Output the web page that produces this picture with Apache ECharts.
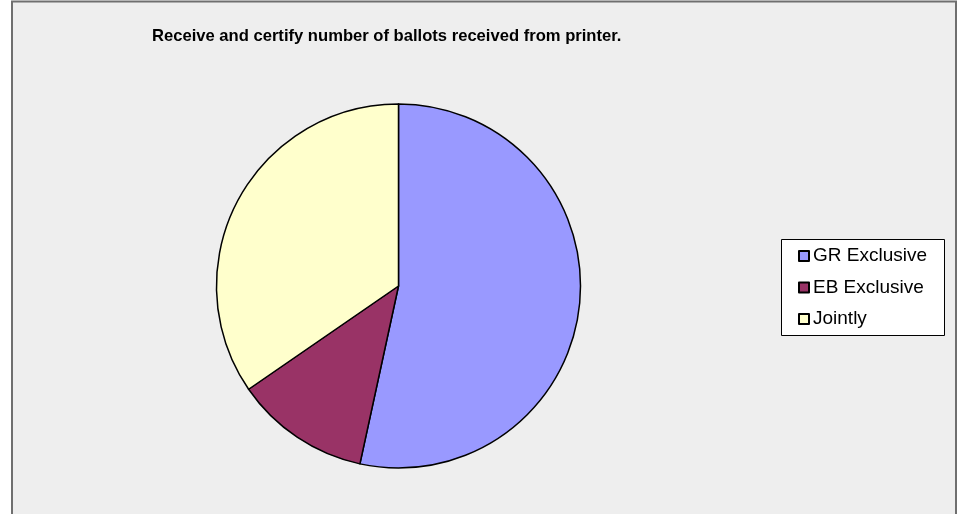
<!DOCTYPE html>
<html><head><meta charset="utf-8">
<script src="https://cdn.jsdelivr.net/npm/echarts@6/dist/echarts.min.js"></script>
<style>html,body{margin:0;padding:0;background:#fff}#c{width:959px;height:514px}</style>
</head><body><div id="c"></div>
<script>
const titleText = "Receive and certify number of ballots received from printer.";
const categories = ["GR Exclusive", "EB Exclusive", "Jointly"];
const values = [53.4, 12.0, 34.6];
const colors = ["#9999FF", "#993366", "#FFFFCC"];

const chart = echarts.init(document.getElementById('c'), null, {renderer: 'canvas'});
chart.setOption({
  animation: false,
  backgroundColor: '#ffffff',
  graphic: [
    {type: 'rect', z: -10, shape: {x: 12, y: 1.5, width: 944, height: 530},
     style: {fill: '#EEEEEE', stroke: '#6f6f6f', lineWidth: 2}},
    {type: 'rect', z: -5, shape: {x: 781.5, y: 239.5, width: 163, height: 96},
     style: {fill: '#FFFFFF', stroke: '#000000', lineWidth: 1}}
  ],
  title: {
    text: titleText, left: 147, top: 23,
    textStyle: {fontFamily: 'Liberation Sans, Arial', fontWeight: 'bold', fontSize: 16.6, color: '#000'}
  },
  legend: {
    orient: 'vertical', left: 798, top: 246, padding: 0,
    itemWidth: 10, itemHeight: 10, itemGap: 11.5, icon: 'rect',
    textStyle: {fontFamily: 'Liberation Sans, Arial', fontSize: 19, color: '#000', lineHeight: 20, padding: [0,0,0,-1]},
    data: categories
  },
  series: [{
    type: 'pie', center: [398.5, 286], radius: 182, startAngle: 90, clockwise: true,
    label: {show: false}, labelLine: {show: false}, silent: true,
    itemStyle: {borderColor: '#000', borderWidth: 1.5},
    data: categories.map((n, i) => ({name: n, value: values[i], itemStyle: {color: colors[i]}}))
  }]
});
</script></body></html>
